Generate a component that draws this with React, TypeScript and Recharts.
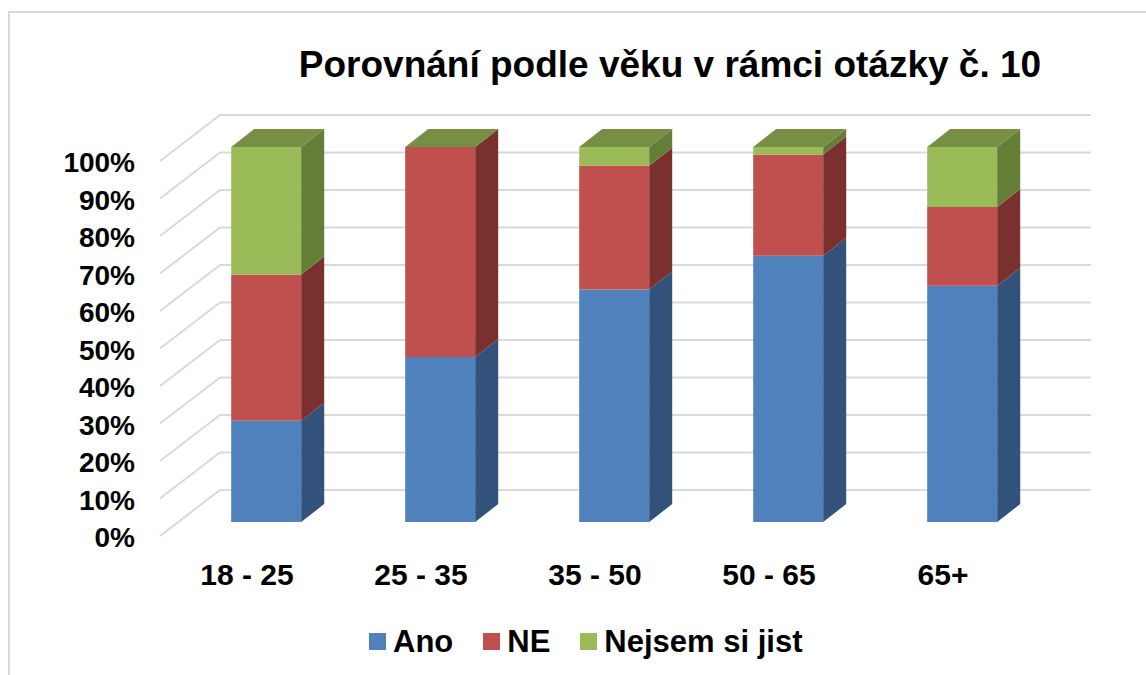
import { BarChart, Bar, XAxis, YAxis, CartesianGrid } from 'recharts'

const categories = ['18 - 25', '25 - 35', '35 - 50', '50 - 65', '65+']
const ano = [27, 44, 62, 71, 63]
const ne = [39, 56, 33, 27, 21]
const nejsem = [34, 0, 5, 2, 16]
const yTicks = [0, 10, 20, 30, 40, 50, 60, 70, 80, 90, 100]

const seriesNames = ['Ano', 'NE', 'Nejsem si jist']
const front = ['#4f81bd', '#c0504d', '#9bbb59']
const side = ['#32527b', '#7a302e', '#657e37']
const topGreen = '#778f43'

const data = categories.map((cat, i) => ({
  cat,
  ano: ano[i],
  ne: ne[i],
  nejsem: nejsem[i],
}))

const FONT = '"Liberation Sans", Arial, sans-serif'
// depth of the fake 3d boxes
const DX = 23
const DY = -18

function box(sideFill: string, topFill?: string) {
  return (p: any) => {
    const { x, y, width: w, height: h, fill } = p
    return (
      <g>
        <rect x={x} y={y} width={w} height={h} fill={fill} />
        <polygon
          points={`${x + w},${y} ${x + w + DX},${y + DY} ${x + w + DX},${y + h + DY} ${x + w},${y + h}`}
          fill={sideFill}
        />
        {topFill && (
          <polygon
            points={`${x},${y} ${x + DX},${y + DY} ${x + w + DX},${y + DY} ${x + w},${y}`}
            fill={topFill}
          />
        )}
      </g>
    )
  }
}

const gridLine = (p: any) => {
  const y = p.y1
  return (
    <g key={p.key}>
      <line x1={p.x1 - 19} y1={y + 14} x2={p.x1 + 41} y2={y - 32} stroke="#d9d9d9" strokeWidth={2} />
      <line x1={p.x1 + 41} y1={y - 32} x2={p.x2 + 42} y2={y - 32} stroke="#d9d9d9" strokeWidth={2} />
    </g>
  )
}

const YTick = (p: any) => (
  <text
    x={135}
    y={p.y + 25}
    textAnchor="end"
    fontSize={28}
    fontWeight="bold"
    fontFamily={FONT}
    fill="#000"
  >
    {p.payload.value}%
  </text>
)

const XTick = (p: any) => (
  <text
    x={p.x - 19}
    y={p.y + 63}
    textAnchor="middle"
    fontSize={30}
    fontWeight="bold"
    fontFamily={FONT}
    fill="#000"
  >
    {p.payload.value}
  </text>
)

export default function App() {
  return (
    <div
      style={{
        position: 'absolute',
        left: 0,
        top: 0,
        width: 1146,
        height: 675,
        overflow: 'hidden',
        background: '#fff',
        fontFamily: FONT,
      }}
    >
      <div
        style={{
          position: 'absolute',
          left: 8,
          top: 11,
          width: 1200,
          height: 700,
          borderLeft: '2px solid #d9d9d9',
          borderTop: '2px solid #d9d9d9',
        }}
      />
      <div
        style={{
          position: 'absolute',
          left: 0,
          top: 46,
          width: 1340,
          textAlign: 'center',
          fontSize: 37,
          lineHeight: '37px',
          fontWeight: 'bold',
          color: '#000',
          whiteSpace: 'nowrap',
        }}
      >
        Porovnání podle věku v rámci otázky č. 10
      </div>
      <div style={{ position: 'absolute', left: 0, top: 0 }}>
        <BarChart
          width={1146}
          height={675}
          data={data}
          barCategoryGap="30%"
          margin={{ top: 147, right: 97, bottom: 123, left: 119 }}
        >
          <CartesianGrid vertical={false} horizontal={gridLine} />
          <XAxis
            dataKey="cat"
            height={30}
            axisLine={false}
            tickLine={false}
            tickSize={0}
            tickMargin={0}
            tick={<XTick />}
          />
          <YAxis
            width={60}
            domain={[0, 100]}
            ticks={yTicks}
            axisLine={false}
            tickLine={false}
            tick={<YTick />}
          />
          <Bar dataKey="ano" name={seriesNames[0]} stackId="a" fill={front[0]} shape={box(side[0])} isAnimationActive={false} />
          <Bar dataKey="ne" name={seriesNames[1]} stackId="a" fill={front[1]} shape={box(side[1])} isAnimationActive={false} />
          <Bar dataKey="nejsem" name={seriesNames[2]} stackId="a" fill={front[2]} shape={box(side[2], topGreen)} isAnimationActive={false} />
        </BarChart>
      </div>
      <div
        style={{
          position: 'absolute',
          left: 369,
          top: 626,
          height: 31,
          display: 'flex',
          alignItems: 'center',
          whiteSpace: 'nowrap',
        }}
      >
        {seriesNames.map((name, i) => (
          <div key={name} style={{ display: 'flex', alignItems: 'center', marginRight: i < 2 ? 30 : 0 }}>
            <div style={{ width: 17, height: 17, background: front[i], marginRight: 7 }} />
            <span style={{ fontSize: 31, lineHeight: '31px', fontWeight: 'bold', color: '#000' }}>{name}</span>
          </div>
        ))}
      </div>
    </div>
  )
}
